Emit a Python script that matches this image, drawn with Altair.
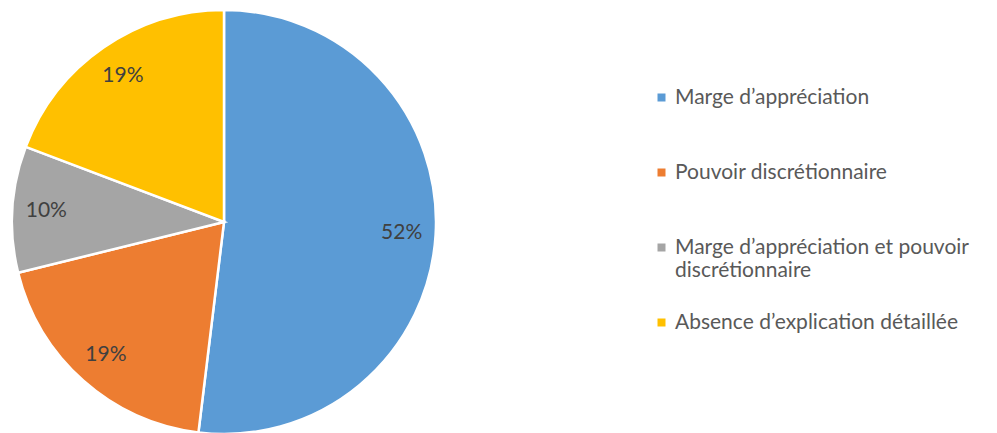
import altair as alt
import pandas as pd

categories = [
    "Marge d’appréciation",
    "Pouvoir discrétionnaire",
    "Marge d’appréciation et pouvoir discrétionnaire",
    "Absence d’explication détaillée",
]
counts = [27, 10, 5, 10]
colors = ["#5B9BD5", "#ED7D31", "#A5A5A5", "#FFC000"]

df = pd.DataFrame({"cat": categories, "n": counts, "order": list(range(len(categories)))})

FONT = "Lato"
CX, CY, R = 216, 214, 212

base = alt.Chart(df).encode(
    theta=alt.Theta("n:Q", stack=True),
    order=alt.Order("order:Q"),
)

color = alt.Color(
    "cat:N",
    sort=categories,
    scale=alt.Scale(domain=categories, range=colors),
    legend=alt.Legend(
        title=None,
        orient="none",
        legendX=643,
        legendY=79,
        symbolType="square",
        symbolSize=64,
        symbolStrokeWidth=0,
        labelFont=FONT,
        labelFontSize=21,
        labelColor="#595959",
        labelOffset=3,
        labelLimit=400,
        rowPadding=30,
        padding=0,
        labelExpr="datum.label == 'Marge d’appréciation et pouvoir discrétionnaire' ? ['Marge d’appréciation et pouvoir', 'discrétionnaire'] : [datum.label, ' ']",
    ),
)

pie = base.mark_arc(outerRadius=R, stroke="white", strokeWidth=2.5).encode(
    color=color,
    x=alt.value(CX),
    y=alt.value(CY),
)

labels = base.transform_joinaggregate(total="sum(n)").transform_calculate(
    pct="format(datum.n / datum.total, '.0%')"
).mark_text(radius=178, font=FONT, fontSize=21, color="#404040", baseline="middle").encode(
    text="pct:N",
    x=alt.value(CX),
    y=alt.value(CY),
)

chart = (
    alt.layer(pie, labels)
    .properties(width=981, height=425, autosize=alt.AutoSizeParams(type="none"), padding=0)
    .configure_view(stroke=None)
)

chart.save("out.html", embed_options={"renderer": "svg", "actions": False})
